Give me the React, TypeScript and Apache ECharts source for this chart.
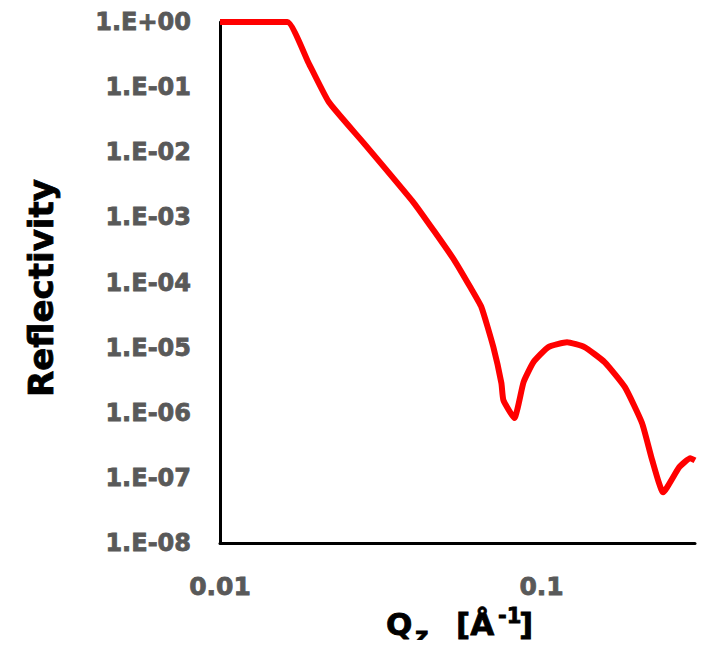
import React, { useEffect, useRef } from "react";
import * as echarts from "echarts";

// Qz (1/Å) and reflectivity values
const qz = [
  0.01, 0.0127, 0.0162, 0.0188, 0.0218, 0.028, 0.0401, 0.0465, 0.0535, 0.06,
  0.065, 0.0708, 0.075, 0.0761, 0.0823, 0.0879, 0.0944, 0.105, 0.12, 0.136,
  0.157, 0.1816, 0.2054, 0.2208, 0.2388, 0.268, 0.29, 0.3,
];
const reflectivity = [
  1, 1, 1, 0.243, 0.059, 0.0138, 1.66e-3, 6.0e-4, 2.21e-4, 8.5e-5,
  4.19e-5, 1.02e-5, 2.85e-6, 1.56e-6, 8.3e-7, 2.95e-6, 6.0e-6, 1.02e-5, 1.21e-5, 1.02e-5,
  6.0e-6, 2.47e-6, 6.9e-7, 1.87e-7, 6.0e-8, 1.46e-7, 2.0e-7, 1.85e-7,
];
const xTickLabels = ["0.01", "0.1"];
const yExtent = [1e-8, 1];
const xExtent = [0.01, 0.3];

const FONT = "DejaVu Sans";
const GRAY = "#595959";

function fmtY(v: number): string {
  const e = Math.round(Math.log10(v));
  const sign = e < 0 ? "-" : "+";
  const a = Math.abs(e);
  return "1.E" + sign + (a < 10 ? "0" + a : String(a));
}

function fmtX(v: number): string {
  const e = Math.log10(v);
  if (Math.abs(e - Math.round(e)) > 1e-6) return "";
  const idx = Math.round(e) + 2;
  return xTickLabels[idx] ?? "";
}

export default function App() {
  const ref = useRef<HTMLDivElement>(null);
  useEffect(() => {
    if (!ref.current) return;
    const chart = echarts.init(ref.current, null, { renderer: "svg" });
    const data = qz.map((q, i) => [q, reflectivity[i]]);
    const titleStyle = (text: string, size: number) => ({
      text,
      fill: "#000",
      font: `bold ${size}px "${FONT}"`,
      stroke: "#000",
      lineWidth: 0.8,
      textAlign: "left",
      textVerticalAlign: "middle",
    });
    chart.setOption({
      animation: false,
      backgroundColor: "#ffffff",
      grid: { left: 220, right: 15, top: 22, bottom: 105, containLabel: false },
      xAxis: {
        type: "log",
        logBase: 10,
        min: xExtent[0],
        max: xExtent[1],
        splitNumber: 5,
        axisLine: { show: true, lineStyle: { color: "#000", width: 3 } },
        axisTick: { show: false },
        splitLine: { show: false },
        minorTick: { show: false },
        axisLabel: {
          formatter: fmtX,
          margin: 31,
          color: GRAY,
          fontFamily: FONT,
          fontWeight: "bold",
          fontSize: 25,
          textBorderColor: GRAY,
          textBorderWidth: 0.8,
          showMaxLabel: false,
        },
      },
      yAxis: {
        type: "log",
        logBase: 10,
        min: yExtent[0],
        max: yExtent[1],
        splitNumber: 8,
        axisLine: { show: true, lineStyle: { color: "#000", width: 3 } },
        axisTick: { show: false },
        splitLine: { show: false },
        axisLabel: {
          formatter: fmtY,
          margin: 29,
          color: GRAY,
          fontFamily: FONT,
          fontWeight: "bold",
          fontSize: 24,
          textBorderColor: GRAY,
          textBorderWidth: 0.8,
        },
      },
      series: [
        {
          type: "line",
          data,
          showSymbol: false,
          symbol: "none",
          smooth: 0.15,
          clip: false,
          lineStyle: { color: "#ff0000", width: 6, join: "round", cap: "butt" },
        },
      ],
      graphic: [
        {
          type: "text",
          x: 41,
          y: 288,
          rotation: Math.PI / 2,
          style: { ...titleStyle("Reflectivity", 34), textAlign: "center" },
        },
        { type: "text", x: 386, y: 624, style: titleStyle("Q", 31) },
        { type: "text", x: 415, y: 636, style: titleStyle("z", 23) },
        { type: "text", x: 456, y: 624, style: titleStyle("[Å", 31) },
        { type: "text", x: 498, y: 616, style: titleStyle("-1", 21) },
        { type: "text", x: 519, y: 624, style: titleStyle("]", 31) },
      ],
    });
    return () => chart.dispose();
  }, []);
  return <div ref={ref} style={{ width: 710, height: 648, margin: -8 }} />;
}
